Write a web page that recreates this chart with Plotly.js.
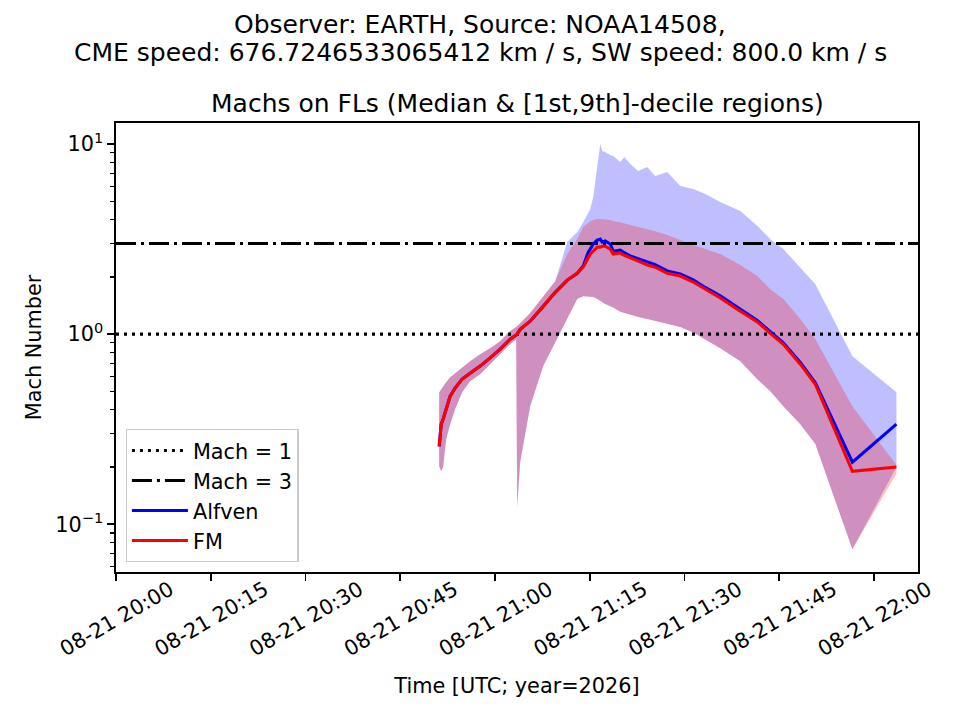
<!DOCTYPE html>
<html>
<head>
<meta charset="utf-8">
<script src="https://cdn.plot.ly/plotly-3.0.1.min.js"></script>
<style>
  body { margin: 0; background: #fff; }
  #chart { width: 960px; height: 720px; }
</style>
</head>
<body>
<div id="chart"></div>
<script>
// sample times of the FL medians and deciles
const times = [
  "2026-08-21 20:51:10", "2026-08-21 20:51:29", "2026-08-21 20:51:47", "2026-08-21 20:52:16",
  "2026-08-21 20:52:54", "2026-08-21 20:53:41", "2026-08-21 20:54:48", "2026-08-21 20:56:04",
  "2026-08-21 20:57:39", "2026-08-21 20:59:14", "2026-08-21 21:00:49", "2026-08-21 21:02:24",
  "2026-08-21 21:03:21", "2026-08-21 21:03:31", "2026-08-21 21:03:59", "2026-08-21 21:05:34",
  "2026-08-21 21:07:38", "2026-08-21 21:09:32", "2026-08-21 21:11:26", "2026-08-21 21:13:01",
  "2026-08-21 21:13:58", "2026-08-21 21:14:46", "2026-08-21 21:15:05", "2026-08-21 21:15:33",
  "2026-08-21 21:16:11", "2026-08-21 21:16:40", "2026-08-21 21:16:59", "2026-08-21 21:17:27",
  "2026-08-21 21:18:15", "2026-08-21 21:18:43", "2026-08-21 21:19:50", "2026-08-21 21:20:28",
  "2026-08-21 21:21:25", "2026-08-21 21:22:41", "2026-08-21 21:24:06", "2026-08-21 21:25:22",
  "2026-08-21 21:27:16", "2026-08-21 21:29:20", "2026-08-21 21:31:23", "2026-08-21 21:33:17",
  "2026-08-21 21:35:40", "2026-08-21 21:38:50", "2026-08-21 21:41:32", "2026-08-21 21:43:35",
  "2026-08-21 21:45:39", "2026-08-21 21:48:20", "2026-08-21 21:50:43", "2026-08-21 21:56:35",
  "2026-08-21 22:03:33"
];

// Alfven Mach: median, 1st and 9th decile
const alfvenMedian = [
  0.257, 0.336, 0.357, 0.403, 0.472, 0.520, 0.580, 0.623, 0.679, 0.75, 0.834, 0.94,
  0.99, 1.0, 1.06, 1.17, 1.40, 1.66, 1.92, 2.09, 2.28, 2.70, 2.80, 2.98,
  3.12, 3.16, 3.05, 3.09, 2.98, 2.73, 2.77, 2.68, 2.58, 2.49, 2.38, 2.32,
  2.15, 2.07, 1.93, 1.76, 1.59, 1.35, 1.18, 1.03, 0.90, 0.71, 0.555, 0.212,
  0.336
];
const alfvenLow = [
  0.202, 0.190, 0.200, 0.28, 0.336, 0.403, 0.495, 0.566, 0.616, 0.695, 0.785, 0.886,
  0.94, 0.123, 0.212, 0.418, 0.679, 0.90, 1.20, 1.53, 1.58, 1.58, 1.58, 1.57,
  1.53, 1.49, 1.47, 1.44, 1.40, 1.38, 1.31, 1.29, 1.26, 1.23, 1.20, 1.17,
  1.13, 1.09, 1.02, 0.94, 0.844, 0.72, 0.579, 0.501, 0.418, 0.336, 0.264, 0.0738,
  0.200
];
const alfvenHigh = [
  0.495, 0.514, 0.533, 0.559, 0.594, 0.623, 0.670, 0.721, 0.785, 0.844, 0.918, 1.04,
  1.09, 1.10, 1.14, 1.29, 1.57, 1.90, 3.05, 3.44, 3.88, 4.39, 4.55, 5.26,
  7.57, 10.0, 9.19, 9.08, 8.75, 8.64, 8.04, 8.54, 7.85, 7.21, 7.57, 6.79,
  7.12, 6.01, 5.80, 5.46, 4.95, 4.44, 3.70, 3.16, 2.80, 2.25, 1.83, 0.766,
  0.495
];

// fast-magnetosonic Mach: median, 1st and 9th decile
const fmMedian = [
  0.257, 0.336, 0.357, 0.403, 0.472, 0.520, 0.580, 0.623, 0.679, 0.75, 0.834, 0.94,
  0.99, 1.0, 1.06, 1.17, 1.40, 1.66, 1.92, 2.09, 2.25, 2.54, 2.64, 2.73,
  2.87, 2.87, 2.90, 2.90, 2.80, 2.64, 2.67, 2.60, 2.51, 2.42, 2.31, 2.25,
  2.09, 2.02, 1.88, 1.72, 1.55, 1.32, 1.16, 1.01, 0.885, 0.695, 0.545, 0.190,
  0.200
];
const fmLow = [
  0.202, 0.190, 0.200, 0.28, 0.336, 0.403, 0.495, 0.566, 0.616, 0.695, 0.785, 0.886,
  0.94, 0.123, 0.212, 0.418, 0.679, 0.90, 1.20, 1.53, 1.58, 1.58, 1.58, 1.57,
  1.53, 1.49, 1.47, 1.44, 1.40, 1.38, 1.31, 1.29, 1.26, 1.23, 1.20, 1.17,
  1.13, 1.09, 1.02, 0.94, 0.844, 0.72, 0.579, 0.501, 0.418, 0.336, 0.264, 0.0738,
  0.185
];
const fmHigh = [
  0.495, 0.514, 0.533, 0.559, 0.594, 0.623, 0.670, 0.721, 0.785, 0.844, 0.918, 1.04,
  1.09, 1.10, 1.14, 1.29, 1.57, 1.90, 2.64, 3.16, 3.66, 3.88, 3.93, 3.98,
  4.03, 4.03, 4.03, 4.01, 3.98, 3.93, 3.88, 3.84, 3.75, 3.66, 3.57, 3.48,
  3.32, 3.12, 2.94, 2.80, 2.64, 2.31, 2.02, 1.72, 1.53, 1.20, 0.94, 0.418,
  0.205
];

// axis ticks
const xRange = ["2026-08-21 20:00:00", "2026-08-21 22:06:58"];
const xTicks = [
  "2026-08-21 20:00", "2026-08-21 20:15", "2026-08-21 20:30", "2026-08-21 20:45",
  "2026-08-21 21:00", "2026-08-21 21:15", "2026-08-21 21:30", "2026-08-21 21:45",
  "2026-08-21 22:00"
];
const xTickLabels = [
  "08-21 20:00", "08-21 20:15", "08-21 20:30", "08-21 20:45", "08-21 21:00",
  "08-21 21:15", "08-21 21:30", "08-21 21:45", "08-21 22:00"
];
const yTicks = [0.1, 1, 10];
const yTickLabels = ["10<sup>\u22121</sup>", "10<sup>0</sup>", "10<sup>1</sup>"];
const yMinorTicks = [0.06, 0.07, 0.08, 0.09, 0.2, 0.3, 0.4, 0.5, 0.6, 0.7, 0.8, 0.9,
  2, 3, 4, 5, 6, 7, 8, 9];

const FONT = "DejaVu Sans, Liberation Sans, sans-serif";
const LW = 3.1; // 1.5pt at 150 dpi

function band(lo, hi, fill)
{
  const base = {x: times, mode: "lines", line: {width: 0}, showlegend: false, hoverinfo: "skip"};
  return [
    {...base, y: lo},
    {...base, y: hi, fill: "tonexty", fillcolor: fill}
  ];
}

function hline(value, name, dash)
{
  return {
    x: xRange,
    y: [value, value],
    name,
    mode: "lines",
    line: {color: "black", width: LW, dash},
    hoverinfo: "skip"
  };
}

function traces()
{
  return [
    ...band(alfvenLow, alfvenHigh, "rgba(0,0,255,0.25)"),
    ...band(fmLow, fmHigh, "rgba(255,0,0,0.25)"),
    hline(1, "Mach = 1", "3px,5px"),
    hline(3, "Mach = 3", "20px,5px,3px,5px"),
    {x: times, y: alfvenMedian, name: "Alfven", mode: "lines", line: {color: "blue", width: LW}},
    {x: times, y: fmMedian, name: "FM", mode: "lines", line: {color: "red", width: LW}}
  ];
}

function text(str, x, y, size)
{
  return {
    text: str, xref: "paper", yref: "paper", x, y,
    xanchor: "center", yanchor: "middle", showarrow: false,
    font: {size, color: "black", family: FONT}
  };
}

const axisStyle = {
  showline: true,
  mirror: true,
  linecolor: "black",
  linewidth: 1.6,
  showgrid: false,
  zeroline: false,
  ticks: "outside",
  ticklen: 7,
  tickwidth: 1.6,
  tickcolor: "black",
  tickfont: {size: 20.8, color: "black", family: FONT}
};

const layout = {
  width: 960,
  height: 720,
  margin: {l: 116, r: 42, t: 123, b: 148},
  paper_bgcolor: "white",
  plot_bgcolor: "white",
  font: {family: FONT, color: "black"},
  showlegend: true,
  legend: {
    x: 0.012, y: 0.022, xanchor: "left", yanchor: "bottom",
    traceorder: "normal",
    itemwidth: 56,
    bgcolor: "rgba(255,255,255,0.8)",
    bordercolor: "#cccccc",
    borderwidth: 1.3,
    font: {size: 20.8, color: "black", family: FONT}
  },
  xaxis: {
    ...axisStyle,
    type: "date",
    range: xRange,
    tickmode: "array",
    tickvals: xTicks,
    ticktext: xTickLabels,
    tickangle: -30,
    ticklabelshift: 54,
    ticklabelstandoff: -11,
    title: {text: "Time [UTC; year=2026]", standoff: 18, font: {size: 20.8, family: FONT}}
  },
  yaxis: {
    ...axisStyle,
    type: "log",
    range: [-1.251, 1.1105],
    tickmode: "array",
    tickvals: yTicks,
    ticktext: yTickLabels,
    minor: {ticks: "outside", ticklen: 4, tickwidth: 1.2, tickcolor: "black", tickmode: "array", tickvals: yMinorTicks, showgrid: false},
    title: {text: "Mach Number", standoff: 8, font: {size: 20.8, family: FONT}}
  },
  annotations: [
    text("Observer: EARTH, Source: NOAA14508,", 0.4539, 1.2183, 25),
    text("CME speed: 676.7246533065412 km / s, SW speed: 800.0 km / s", 0.4539, 1.1581, 25),
    text("Machs on FLs (Median & [1st,9th]-decile regions)", 0.5, 1.0445, 25)
  ]
};

Plotly.newPlot("chart", traces(), layout, {displayModeBar: false, staticPlot: true});
</script>
</body>
</html>
